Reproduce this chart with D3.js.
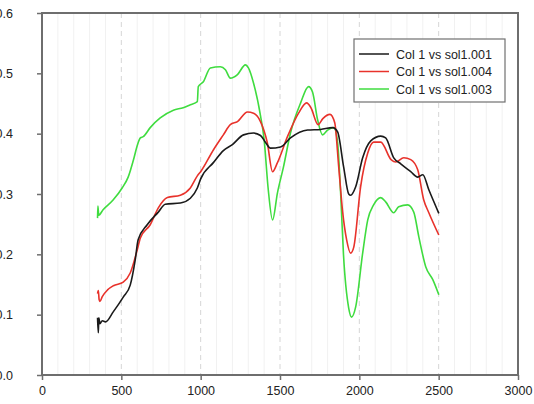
<!DOCTYPE html>
<head>
  <meta charset="utf-8">
  <script src="https://d3js.org/d3.v7.min.js"></script>
  <style>
    body { margin:0; background:#fff; }
    text { font-family: "Liberation Sans", Arial, sans-serif; }
  </style>
</head>
<body>
<script>
// values: [wavelength, value]
var sol001 = [[350,0.095],[355,0.07],[358,0.095],[365,0.085],[380,0.09],[400,0.088],[450,0.105],[512,0.129],[556,0.149],[587,0.19],[606,0.224],[663,0.249],[733,0.27],[777,0.283],[872,0.285],[935,0.293],[979,0.31],[1000,0.325],[1080,0.352],[1143,0.372],[1200,0.382],[1270,0.398],[1333,0.401],[1377,0.397],[1410,0.385],[1440,0.376],[1503,0.378],[1566,0.393],[1674,0.406],[1756,0.407],[1832,0.41],[1863,0.403],[1901,0.345],[1933,0.3],[1945,0.298],[1977,0.312],[2021,0.36],[2072,0.388],[2135,0.396],[2166,0.393],[2217,0.36],[2261,0.35],[2324,0.337],[2368,0.328],[2400,0.332],[2438,0.307],[2501,0.268]];
var sol004 = [[350,0.135],[355,0.14],[360,0.125],[365,0.122],[380,0.13],[413,0.141],[450,0.148],[512,0.154],[556,0.169],[600,0.207],[620,0.227],[682,0.249],[733,0.277],[790,0.294],[872,0.298],[935,0.31],[979,0.33],[1000,0.337],[1080,0.373],[1143,0.398],[1187,0.415],[1232,0.42],[1295,0.436],[1333,0.434],[1377,0.42],[1420,0.385],[1453,0.337],[1484,0.352],[1547,0.395],[1617,0.434],[1668,0.451],[1695,0.443],[1740,0.415],[1770,0.425],[1815,0.432],[1845,0.418],[1870,0.345],[1895,0.27],[1920,0.224],[1945,0.202],[1965,0.212],[2008,0.312],[2053,0.368],[2090,0.386],[2135,0.386],[2200,0.357],[2230,0.353],[2280,0.36],[2324,0.357],[2368,0.34],[2406,0.29],[2438,0.269],[2501,0.232]];
var sol003 = [[350,0.26],[352,0.28],[358,0.265],[385,0.274],[448,0.29],[505,0.31],[543,0.328],[580,0.36],[600,0.38],[620,0.393],[638,0.395],[682,0.41],[745,0.426],[828,0.439],[890,0.443],[935,0.448],[979,0.453],[985,0.478],[1017,0.486],[1061,0.509],[1124,0.511],[1156,0.506],[1187,0.492],[1232,0.498],[1282,0.514],[1301,0.509],[1333,0.484],[1377,0.43],[1400,0.39],[1425,0.31],[1453,0.257],[1484,0.302],[1522,0.345],[1566,0.401],[1630,0.451],[1680,0.478],[1705,0.469],[1737,0.423],[1768,0.398],[1800,0.406],[1840,0.41],[1863,0.385],[1882,0.302],[1900,0.2],[1933,0.111],[1951,0.096],[1977,0.113],[2021,0.202],[2053,0.257],[2090,0.282],[2135,0.294],[2166,0.287],[2217,0.269],[2248,0.279],[2305,0.282],[2343,0.27],[2375,0.229],[2419,0.179],[2463,0.158],[2501,0.133]];

var seriesNames = ["Col 1 vs sol1.001", "Col 1 vs sol1.004", "Col 1 vs sol1.003"];
var seriesColors = ["#1a1a1a", "#e8322b", "#3fdc3f"];
var xTicks = [0, 500, 1000, 1500, 2000, 2500, 3000];
var yTicks = [0, 0.1, 0.2, 0.3, 0.4, 0.5, 0.6];

var svg = d3.select("body").append("svg")
  .attr("width", 534)
  .attr("height", 404)

var pLeft = 42, pRight = 518, pTop = 13, pBottom = 375;

var x = d3.scaleLinear().domain([0, 3000]).range([pLeft, pRight])
var y = d3.scaleLinear().domain([0, 0.6]).range([pBottom, pTop])

// faint minor grid every 100
svg.selectAll(".minor")
  .data(d3.range(100, 3000, 100).filter(function(d){ return d % 500 != 0 }))
  .enter().append("line")
  .attr("x1", function(d){ return x(d) }).attr("x2", function(d){ return x(d) })
  .attr("y1", pTop).attr("y2", pBottom)
  .attr("stroke", "#f1f1f1").attr("stroke-width", 1)

// dashed major grid
svg.selectAll(".major")
  .data(xTicks.slice(1, -1))
  .enter().append("line")
  .attr("x1", function(d){ return x(d) }).attr("x2", function(d){ return x(d) })
  .attr("y1", pTop).attr("y2", pBottom)
  .attr("stroke", "#d6d6d6").attr("stroke-width", 1)
  .attr("stroke-dasharray", "5,4")

var line = d3.line()
  .x(function(d){ return x(d[0]) })
  .y(function(d){ return y(d[1]) })
  .curve(d3.curveMonotoneX)

var all = [sol001, sol004, sol003];
// draw green first, black on top
[2, 1, 0].forEach(function(i){
  svg.append("path")
    .datum(all[i])
    .attr("d", line)
    .attr("fill", "none")
    .attr("stroke", seriesColors[i])
    .attr("stroke-width", 1.6)
})

// frame
svg.append("rect")
  .attr("x", pLeft).attr("y", pTop)
  .attr("width", pRight - pLeft).attr("height", pBottom - pTop)
  .attr("fill", "none").attr("stroke", "#6e6e6e").attr("stroke-width", 2)

var xAxis = svg.append("g")
  .attr("transform", "translate(0," + pBottom + ")")
  .call(d3.axisBottom(x).tickValues(xTicks).tickSize(5).tickPadding(6).tickFormat(d3.format("d")))
var yAxis = svg.append("g")
  .attr("transform", "translate(" + pLeft + ",0)")
  .call(d3.axisLeft(y).tickValues(yTicks).tickSize(5).tickPadding(24).tickFormat(d3.format(".1f")))

svg.selectAll(".domain").remove()
svg.selectAll(".tick line").attr("stroke", "#6e6e6e").attr("stroke-width", 1.5)
svg.selectAll(".tick text")
  .attr("fill", "#222")
  .style("font-size", "12.5px")
  .style("font-family", "Liberation Sans, Arial, sans-serif")

// legend
var lg = svg.append("g")
lg.append("rect")
  .attr("x", 354).attr("y", 39).attr("width", 151).attr("height", 63)
  .attr("fill", "#fff").attr("stroke", "#707070").attr("stroke-width", 1.2)
seriesNames.forEach(function(name, i){
  var yy = 54 + i * 17.5
  lg.append("line")
    .attr("x1", 359).attr("x2", 389).attr("y1", yy).attr("y2", yy)
    .attr("stroke", seriesColors[i]).attr("stroke-width", 1.5)
  lg.append("text")
    .attr("x", 396).attr("y", yy + 4.5)
    .attr("fill", "#222")
    .style("font-size", "12.5px")
    .text(name)
})
</script>
</body>
